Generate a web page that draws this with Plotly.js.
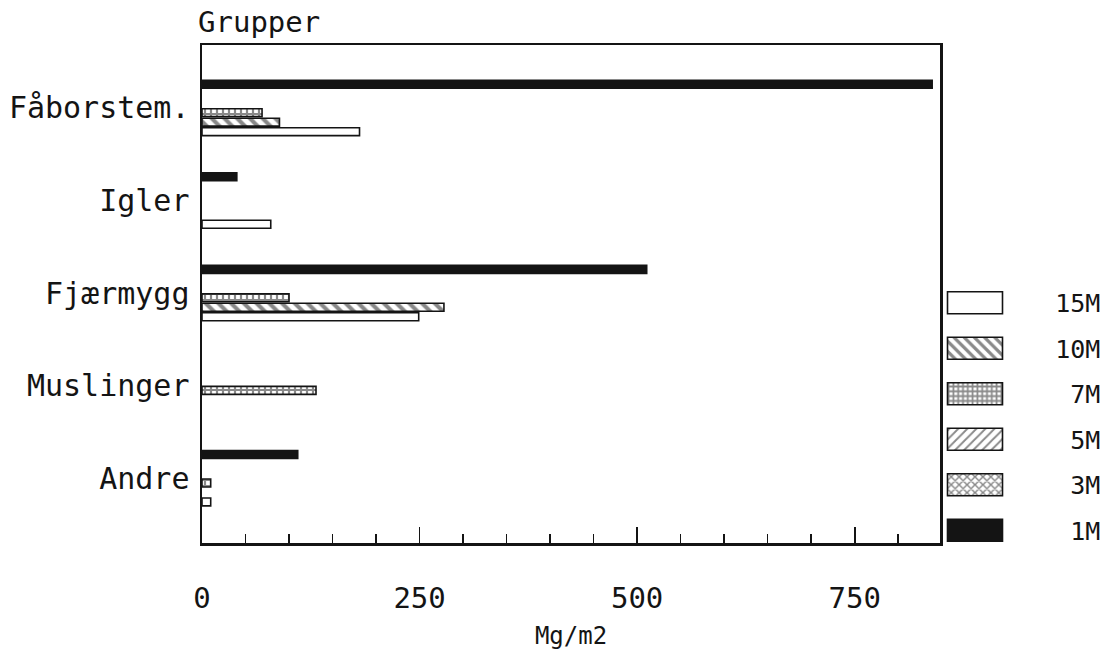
<!DOCTYPE html>
<html>
<head>
<meta charset="utf-8">
<script src="https://cdn.plot.ly/plotly-3.0.1.min.js"></script>
<style>html,body{margin:0;padding:0;background:#fff;}</style>
</head>
<body>
<div id="chart" style="width:1114px;height:650px;"></div>
<script>
// Categories, top to bottom as drawn
var categories = ["Fåborstem.", "Igler", "Fjærmygg", "Muslinger", "Andre"];
// Series values (Mg/m2), same order as categories (null = no bar drawn)
var m15 = [181, 79, 249, null, 10];
var m10 = [89, null, 278, null, null];
var m7  = [69, null, 100, 131, 10];
var m5  = [null, null, null, null, null];
var m3  = [null, null, null, null, null];
var m1  = [839, 40, 511, null, 110];
var seriesNames = ["15M", "10M", " 7M", " 5M", " 3M", " 1M"];
var xTickVals = [0, 250, 500, 750];

var INK = "#141414";
function mk(name, vals, pattern) {
  return {
    type: "bar", orientation: "h",
    name: ("   " + name).replace(/ /g, "\u00A0"),
    legendgroup: name,
    y: categories, x: vals,
    marker: {
      color: pattern.color,
      line: {color: INK, width: 1.6},
      pattern: pattern.shape ? {shape: pattern.shape, fgcolor: INK, bgcolor: "#ffffff", size: pattern.size || 8, solidity: pattern.solidity || 0.35, fillmode: "overlay"} : undefined
    },
    hoverinfo: "x+y+name"
  };
}
var data = [
  mk(seriesNames[0], m15, {color: "#ffffff"}),
  mk(seriesNames[1], m10, {color: "#ffffff", shape: "\\", size: 9, solidity: 0.45}),
  mk(seriesNames[2], m7,  {color: "#ffffff", shape: "+", size: 6, solidity: 0.6}),
  mk(seriesNames[3], m5,  {color: "#ffffff", shape: "/", size: 8, solidity: 0.3}),
  mk(seriesNames[4], m3,  {color: "#ffffff", shape: "x", size: 7, solidity: 0.45}),
  mk(seriesNames[5], m1,  {color: INK})
];

var FONT = "DejaVu Sans Mono";
var layout = {
  width: 1114, height: 650,
  margin: {l: 202, r: 174, t: 45, b: 107, pad: 0, autoexpand: false},
  paper_bgcolor: "#ffffff", plot_bgcolor: "#ffffff",
  barmode: "group", bargap: 0.385, bargroupgap: 0.16,
  font: {family: FONT, color: INK, size: 26},
  showlegend: true,
  legend: {
    x: 1.0, xanchor: "left", y: -0.02, yanchor: "bottom",
    traceorder: "grouped", tracegroupgap: 10, itemwidth: 60,
    font: {family: FONT, size: 25, color: INK},
    bgcolor: "rgba(0,0,0,0)", borderwidth: 0,
    itemclick: false, itemdoubleclick: false
  },
  xaxis: {
    range: [0, 848], tickvals: xTickVals, ticktext: xTickVals.map(String),
    ticks: "inside", ticklen: 16, tickwidth: 1.6, tickcolor: INK,
    minor: {dtick: 50, ticks: "inside", ticklen: 9, tickwidth: 1.6, tickcolor: INK},
    showline: true, linewidth: 2.5, linecolor: INK, mirror: true,
    showgrid: false, zeroline: false,
    ticklabelstandoff: 28,
    tickfont: {family: FONT, size: 29, color: INK},
    title: {text: "Mg/m2", font: {family: FONT, size: 24, color: INK}, standoff: 22}
  },
  yaxis: {
    type: "category", categoryorder: "array", categoryarray: categories.slice().reverse(),
    range: [-0.7, 4.68],
    ticks: "", showline: true, linewidth: 2.5, linecolor: INK, mirror: true,
    showgrid: false, zeroline: false,
    ticklabelstandoff: 4,
    tickfont: {family: FONT, size: 30, color: INK}
  },
  annotations: [{
    text: "Grupper", xref: "paper", yref: "paper", x: 0, y: 1, xanchor: "left", yanchor: "bottom",
    xshift: -6, yshift: 4, showarrow: false, font: {family: FONT, size: 29, color: INK}
  }]
};

Plotly.newPlot("chart", data, layout, {displayModeBar: false, staticPlot: true}).then(function (gd) {
  gd.querySelectorAll(".legend .legendpoints path").forEach(function (p) {
    p.setAttribute("d", "M27.5,11H-27.5V-11H27.5Z");
  });
});
</script>
</body>
</html>
